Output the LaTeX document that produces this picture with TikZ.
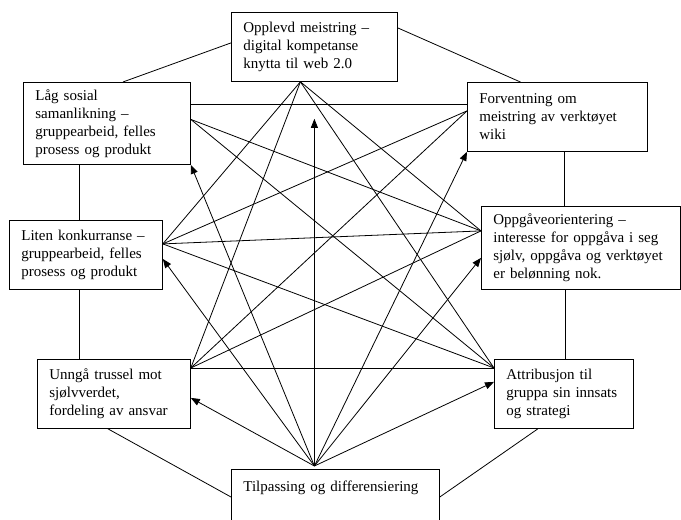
\documentclass[tikz,border=0pt]{standalone}
\usepackage{fontspec}
\setmainfont{Liberation Serif}
\usetikzlibrary{arrows.meta}

\begin{document}
\begin{tikzpicture}[
    x=1pt, y=-1pt,
    font=\fontsize{15}{18}\selectfont,
    >={Triangle[length=9pt,width=7pt]},
    line width=0.8pt,
    boks/.style={draw, anchor=north west, align=left, inner xsep=12pt, inner ysep=0pt}
]
\useasboundingbox (0,0) rectangle (681,520);

\node[boks, text width=142pt, minimum height=69pt] (opplevd) at (231,12) {Opplevd meistring –\\digital kompetanse\\knytta til web 2.0};
\node[boks, text width=143pt, minimum height=82pt] (laag) at (23,82) {Låg sosial\\samanlikning –\\gruppearbeid, felles\\prosess og produkt};
\node[boks, text width=156pt, minimum height=69pt] (forv) at (467,82) {Forventning om\\meistring av verktøyet\\wiki};
\node[boks, text width=129pt, minimum height=69pt] (liten) at (9,220) {Liten konkurranse –\\gruppearbeid, felles\\prosess og produkt};
\node[boks, text width=175pt, minimum height=83pt] (oppg) at (481,206) {Oppgåveorientering –\\interesse for oppgåva i seg\\sjølv, oppgåva og verktøyet\\er belønning nok.};
\node[boks, text width=129pt, minimum height=69pt] (unnga) at (37,359) {Unngå trussel mot\\sjølvverdet,\\fordeling av ansvar};
\node[boks, text width=115pt, minimum height=69pt] (attrib) at (494,359) {Attribusjon til\\gruppa sin innsats\\og strategi};
\node[boks, text width=184pt, text height=22pt, text depth=70pt] (tilp) at (231,469) {Tilpassing og differensiering};

% ytre ring
\draw ([yshift=4pt]opplevd.west) -- ([xshift=16pt]laag.north);
\draw ([yshift=19pt]opplevd.east) -- ([xshift=-37pt]forv.north);
\draw ([xshift=-28pt]laag.south) -- ([xshift=-28pt]laag.south |- liten.north);
\draw ([xshift=-7pt]liten.south) -- ([xshift=-7pt]liten.south |- unnga.north);
\draw ([xshift=7pt]forv.south) -- ([xshift=7pt]forv.south |- oppg.north);
\draw ([xshift=-16pt]oppg.south) -- ([xshift=-16pt]oppg.south |- attrib.north);
\draw ([xshift=-6pt]unnga.south) -- ([yshift=-28pt]tilp.north west);
\draw ([xshift=-26pt]attrib.south) -- ([yshift=-28pt]tilp.north east);
\draw ([yshift=-22pt]laag.north east) -- ([yshift=-22pt]forv.north west);

% koplingspunkt
\coordinate (oT) at ([xshift=-14pt]opplevd.south);
\coordinate (oL1) at ([yshift=4pt]laag.east);
\coordinate (oR1) at ([yshift=6pt]forv.west);
\coordinate (oL2) at ([yshift=11pt]liten.east);
\coordinate (oR2) at ([yshift=17pt]oppg.west);
\coordinate (oL3) at ([yshift=-9pt]unnga.north east);
\coordinate (oR3) at ([yshift=-9pt]attrib.north west);
\coordinate (kjelde) at ([xshift=-21pt,yshift=3pt]tilp.north);

\foreach \a/\b in {oT/oL2, oT/oL3, oT/oR2, oT/oR3, oL1/oR2, oL1/oR3, oR1/oL2, oR1/oL3,
                   oL2/oR2, oL2/oR3, oR2/oL3, oL3/oR3}
    \draw (\a) -- (\b);

% piler frå tilpassing
\draw[->] (kjelde) -- ([yshift=-37pt]opplevd.south);
\draw[->] (kjelde) -- (laag.south east);
\draw[->] (kjelde) -- (forv.south west);
\draw[->] (kjelde) -- ([yshift=-4pt]liten.east);
\draw[->] (kjelde) -- ([yshift=-10pt]oppg.west);
\draw[->] (kjelde) -- ([yshift=-4pt]unnga.east);
\draw[->] (kjelde) -- ([yshift=12pt]attrib.west);
\end{tikzpicture}
\end{document}
